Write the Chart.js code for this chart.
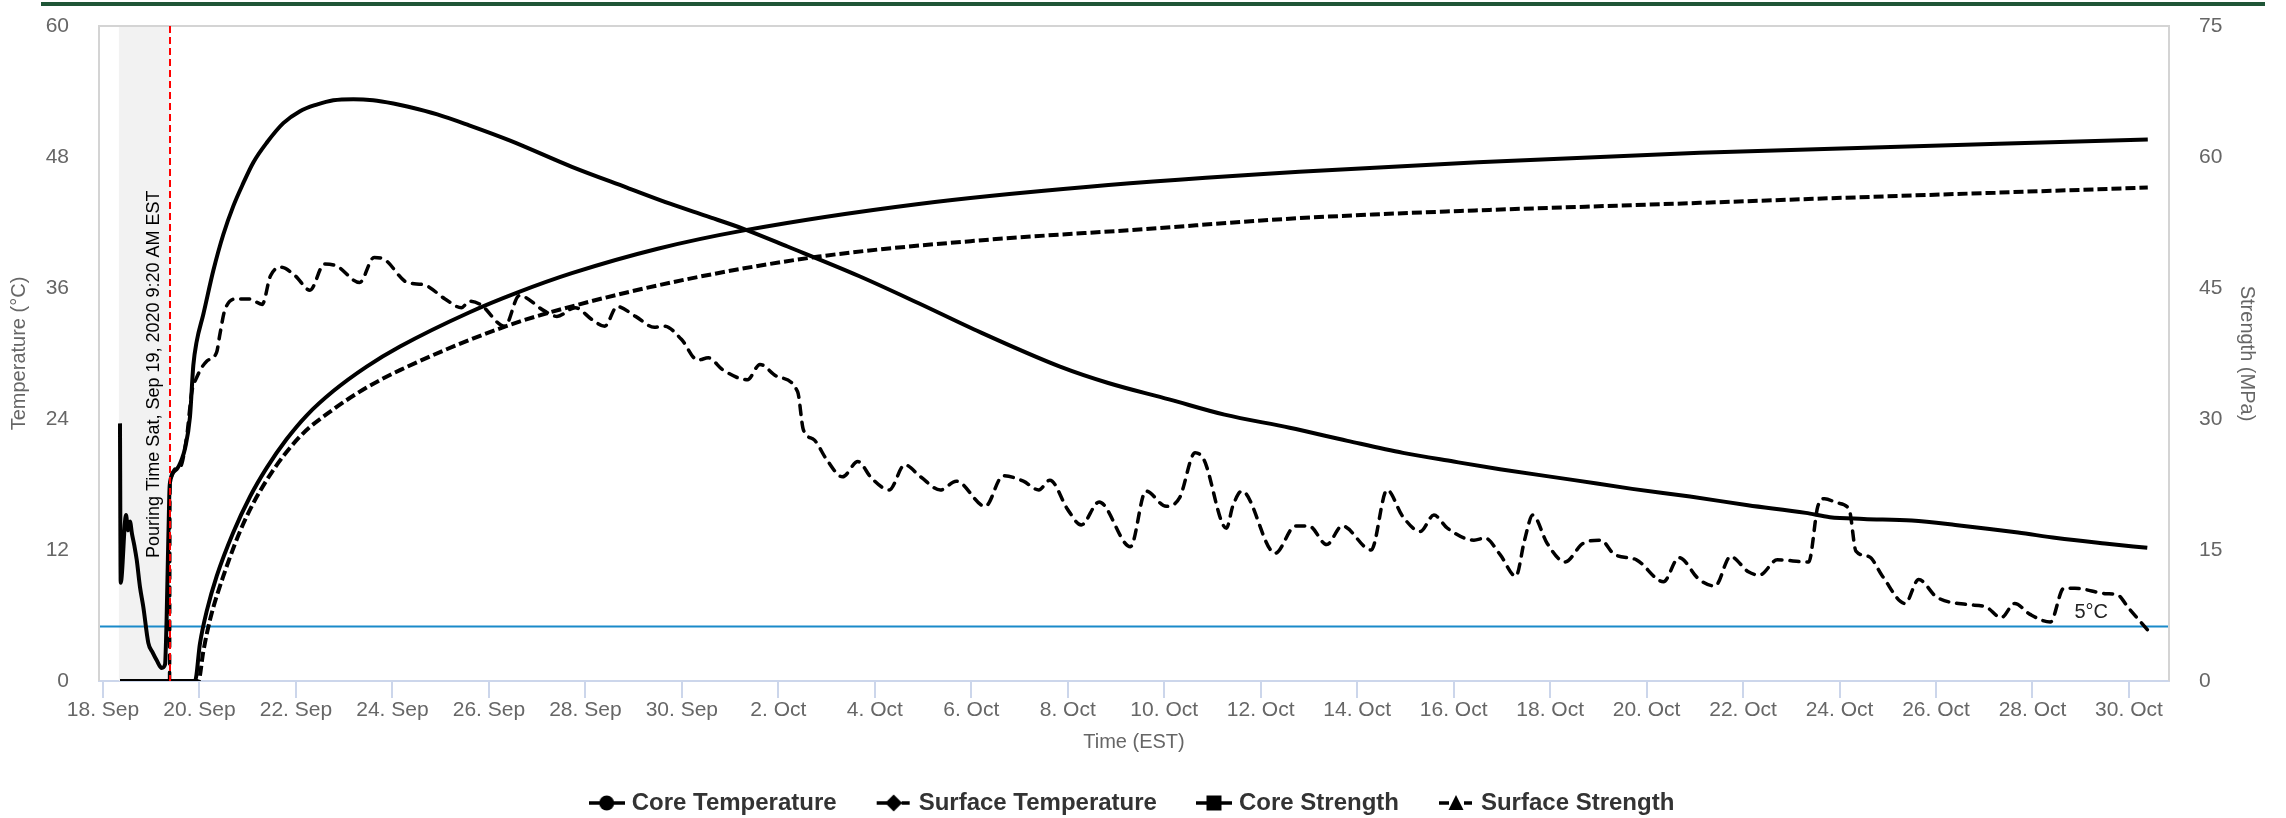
<!DOCTYPE html>
<html>
<head>
<meta charset="utf-8">
<script src="https://cdn.jsdelivr.net/npm/chart.js@4/dist/chart.umd.min.js"></script>
<style>
  html, body { margin: 0; padding: 0; background: #fff; overflow: hidden; }
  #contenedor { position: relative; width: 2286px; height: 818px; }
  #barra { position: absolute; left: 41px; top: 2px; width: 2224px; height: 4px; background: #1f5536; }
  #grafica { position: absolute; left: 0; top: 0; }
</style>
</head>
<body>
<div id="contenedor">
  <canvas id="grafica" width="2286" height="818"></canvas>
  <div id="barra"></div>
</div>
<script>
// dias contados desde el 18 de septiembre 00:00
const diasTicks = [0, 2, 4, 6, 8, 10, 12, 14, 16, 18, 20, 22, 24, 26, 28, 30, 32, 34, 36, 38, 40, 42];
const etiquetasX = ['18. Sep', '20. Sep', '22. Sep', '24. Sep', '26. Sep', '28. Sep', '30. Sep',
    '2. Oct', '4. Oct', '6. Oct', '8. Oct', '10. Oct', '12. Oct', '14. Oct', '16. Oct',
    '18. Oct', '20. Oct', '22. Oct', '24. Oct', '26. Oct', '28. Oct', '30. Oct'];
const ticksTemp = [0, 12, 24, 36, 48, 60];
const ticksRes = [0, 15, 30, 45, 60, 75];

const diaVaciado = 1.389;      // Sat, Sep 19, 2020 9:20 AM
const diaInicioSensor = 0.33;
const tempLimite = 5;

const diasTempNucleo = [0.352, 0.367, 0.477, 0.52, 0.56, 0.60, 0.65, 0.699, 0.767, 0.835, 0.939, 1.03, 1.113, 1.217,
    1.285, 1.32, 1.374, 1.389, 1.528, 1.631, 1.70, 1.803, 1.872, 1.942, 2.08, 2.287, 2.494, 2.701, 2.908, 3.116,
    3.393, 3.738, 4.084, 4.43, 4.775, 5.19, 5.60, 6.02, 6.33, 6.93, 7.59, 8.44, 9.72, 10.86, 11.77, 12.5, 13.29,
    14.19, 15.67, 16.91, 18.06, 19.84, 20.84, 22.1, 23.25, 24.6, 25.8, 26.95, 28.0, 28.96, 30.5, 31.7, 32.9, 34.1,
    35.3, 35.8, 36.5, 37.5, 38.4, 39.7, 40.5, 41.5, 42.38];
const tempNucleo = [23.6, 9.0, 15.2, 13.8, 14.6, 13.5, 12.4, 11.1, 8.6, 6.8, 3.5, 2.6, 1.9, 1.2,
    1.5, 5.9, 17.0, 18.2, 19.4, 20.3, 21.3, 24.2, 28.9, 31.1, 33.6, 37.6, 40.9, 43.5, 45.6, 47.5,
    49.3, 51.1, 52.2, 52.8, 53.2, 53.3, 53.2, 52.9, 52.6, 51.9, 50.9, 49.5, 47.1, 45.2, 43.7, 42.6, 41.4,
    39.8, 37.1, 34.6, 32.2, 28.8, 27.3, 25.8, 24.4, 23.2, 22.0, 20.9, 20.1, 19.4, 18.4, 17.6, 16.9, 16.1,
    15.4, 15.0, 14.85, 14.7, 14.3, 13.6, 13.1, 12.6, 12.2];

const diasTempSuperficie = [1.380, 1.389, 1.596, 1.735, 1.838, 1.942, 2.15, 2.355, 2.425, 2.527, 2.78, 3.04, 3.30,
    3.47, 3.69, 3.99, 4.29, 4.59, 4.85, 5.32, 5.62, 5.84, 6.31, 6.65, 7.09, 7.43, 7.60, 7.82, 8.33, 8.63, 9.15,
    9.41, 9.79, 10.14, 10.40, 10.66, 11.04, 11.43, 11.64, 11.99, 12.33, 12.55, 12.85, 13.36, 13.62, 13.97, 14.40,
    14.52, 14.74, 15.00, 15.33, 15.65, 15.93, 16.30, 16.62, 16.95, 17.36, 17.69, 18.29, 18.66, 19.08, 19.40, 19.63,
    20.00, 20.28, 20.65, 21.30, 21.62, 22.04, 22.32, 22.64, 22.82, 23.29, 23.42, 23.61, 24.30, 24.72, 25.00, 25.37,
    25.69, 26.29, 26.62, 26.94, 27.31, 27.59, 27.87, 28.42, 28.65, 28.96, 29.29, 29.47, 29.64, 29.94, 30.31, 30.68,
    31.05, 31.33, 31.79, 32.35, 32.67, 33.09, 33.42, 33.74, 34.11, 34.34, 34.71, 35.36, 35.55, 35.69, 35.96, 36.20,
    36.34, 36.61, 36.89, 37.36, 37.64, 38.01, 38.65, 39.03, 39.35, 39.63, 39.95, 40.37, 40.65, 40.88, 41.53, 41.76,
    41.99, 42.38];
const tempSuperficie = [0.0, 18.2, 19.6, 22.4, 26.4, 27.8, 29.3, 30.1, 31.8, 34.0, 35.0, 35.0, 34.5,
    37.1, 37.9, 37.1, 35.8, 38.2, 38.0, 36.5, 38.8, 38.6, 36.5, 36.3, 35.0, 34.2, 34.8, 34.5, 32.5, 35.3, 33.9,
    33.4, 34.2, 33.1, 32.5, 34.3, 33.4, 32.4, 32.5, 31.3, 29.4, 29.6, 28.5, 27.6, 29.0, 27.9, 26.5,
    23.0, 22.1, 20.3, 18.7, 20.1, 18.6, 17.5, 19.8, 18.7, 17.5, 18.3, 16.0, 18.8, 18.3, 17.5, 18.4,
    15.7, 14.3, 16.4, 12.3, 17.4, 16.0, 16.8, 20.9, 20.3, 14.0, 16.0, 17.4, 11.7, 14.2, 14.2, 12.5,
    14.2, 12.0, 17.5, 15.1, 13.7, 15.2, 14.0, 12.9, 13.1, 11.6, 9.6, 12.9, 15.2, 12.6, 10.9, 12.6,
    12.9, 11.6, 11.1, 9.1, 11.3, 9.3, 8.7, 11.4, 10.0, 9.7, 11.1, 10.9, 16.0, 16.7, 16.3, 15.7,
    11.9, 11.4, 9.6, 7.1, 9.3, 7.7, 7.0, 6.8, 5.8, 7.1, 6.1, 5.4, 8.5, 8.5, 8.0, 7.9,
    6.7, 4.7];

const diasResNucleo = [0.352, 1.907, 2.01, 2.15, 2.357, 2.70, 3.047, 3.393, 3.808, 4.22, 4.775, 5.466, 6.157,
    7.59, 8.6, 9.72, 11.5, 13.29, 16.87, 20.44, 24.8, 28.5, 33.1, 42.39];
const resNucleo = [0, 0, 4.3, 8.0, 12.0, 17.0, 21.1, 24.4, 27.7, 30.4, 33.2, 36.0, 38.3,
    42.2, 44.5, 46.7, 49.5, 51.6, 54.6, 56.6, 58.3, 59.4, 60.5, 62.0];

const diasResSuperficie = [0.352, 1.976, 2.08, 2.218, 2.494, 2.908, 3.393, 4.084, 4.775, 5.466, 6.157,
    8.29, 9.72, 12.1, 14.84, 18.06, 21.62, 24.8, 33.1, 42.39];
const resSuperficie = [0, 0, 3.4, 7.0, 12.0, 18.0, 23.0, 28.0, 31.1, 33.6, 35.6,
    40.5, 42.9, 46.0, 48.6, 50.4, 51.75, 53.0, 54.75, 56.5];

const puntos = (dias, valores) => dias.map((d, i) => ({ x: d, y: valores[i] }));

const fuente = '"Liberation Sans", Arial, sans-serif';
Chart.defaults.font.family = fuente;
Chart.defaults.color = '#666666';

// iconos de la leyenda: linea + simbolo
const icono = (forma, rayado) => {
    const c = document.createElement('canvas');
    c.width = 36;
    c.height = 20;
    const g = c.getContext('2d');
    g.strokeStyle = '#000';
    g.fillStyle = '#000';
    g.lineWidth = 3.5;
    g.beginPath();
    if (rayado) {
        g.moveTo(1, 10); g.lineTo(11, 10);
        g.moveTo(26, 10); g.lineTo(34, 10);
    } else {
        g.moveTo(0, 10); g.lineTo(36, 10);
    }
    g.stroke();
    g.beginPath();
    if (forma === 'circulo') {
        g.arc(18, 10, 7.5, 0, Math.PI * 2);
    } else if (forma === 'rombo') {
        g.moveTo(18, 1.5); g.lineTo(26.5, 10); g.lineTo(18, 18.5); g.lineTo(9.5, 10);
    } else if (forma === 'cuadro') {
        g.rect(10.5, 2.5, 15, 15);
    } else {
        g.moveTo(18, 2); g.lineTo(25.5, 17); g.lineTo(10.5, 17);
    }
    g.closePath();
    g.fill();
    return c;
};
const iconos = [icono('circulo', false), icono('rombo', true), icono('cuadro', false), icono('triangulo', true)];

const marcas = {
    id: 'marcas',
    beforeDatasetsDraw(chart) {
        const { ctx, chartArea: a, scales: { x, y } } = chart;
        const x0 = x.getPixelForValue(diaInicioSensor);
        const x1 = x.getPixelForValue(diaVaciado);
        ctx.save();
        ctx.fillStyle = '#f2f2f2';
        ctx.fillRect(x0, a.top, x1 - x0, a.bottom - a.top);
        const yl = y.getPixelForValue(tempLimite);
        ctx.strokeStyle = '#1a8ac9';
        ctx.lineWidth = 2;
        ctx.beginPath();
        ctx.moveTo(a.left, yl);
        ctx.lineTo(a.right, yl);
        ctx.stroke();
        ctx.restore();
    },
    afterDatasetsDraw(chart) {
        const { ctx, chartArea: a, scales: { x, y } } = chart;
        const xp = Math.round(x.getPixelForValue(diaVaciado));
        const yl = y.getPixelForValue(tempLimite);
        ctx.save();
        // marco del area
        ctx.strokeStyle = '#d4d4d4';
        ctx.lineWidth = 2;
        ctx.beginPath();
        ctx.moveTo(a.left, a.bottom);
        ctx.lineTo(a.left, a.top);
        ctx.lineTo(a.right, a.top);
        ctx.lineTo(a.right, a.bottom);
        ctx.stroke();
        // linea roja del vaciado
        ctx.strokeStyle = '#ff0000';
        ctx.setLineDash([7, 4]);
        ctx.beginPath();
        ctx.moveTo(xp, a.top);
        ctx.lineTo(xp, a.bottom);
        ctx.stroke();
        ctx.setLineDash([]);
        // texto 5°C
        ctx.fillStyle = '#222';
        ctx.font = '20px ' + fuente;
        ctx.textAlign = 'right';
        ctx.textBaseline = 'bottom';
        ctx.fillText('5°C', a.right - 61, yl - 4);
        // texto del vaciado
        ctx.translate(xp - 16, a.bottom - 123);
        ctx.rotate(-Math.PI / 2);
        ctx.fillStyle = '#000';
        ctx.font = '18px ' + fuente;
        ctx.textAlign = 'left';
        ctx.textBaseline = 'middle';
        ctx.fillText('Pouring Time Sat, Sep 19, 2020 9:20 AM EST', 0, 0);
        ctx.restore();
    }
};

const ctx = document.getElementById('grafica').getContext('2d');
const grafica = new Chart(ctx, {
    type: 'line',
    data: {
        datasets: [{
            label: 'Core Temperature',
            data: puntos(diasTempNucleo, tempNucleo),
            yAxisID: 'y',
            borderColor: '#000',
            borderWidth: 4
        }, {
            label: 'Surface Temperature',
            data: puntos(diasTempSuperficie, tempSuperficie),
            yAxisID: 'y',
            borderColor: '#000',
            borderWidth: 3.5,
            borderDash: [9, 8],
            borderCapStyle: 'round'
        }, {
            label: 'Core Strength',
            data: puntos(diasResNucleo, resNucleo),
            yAxisID: 'y2',
            borderColor: '#000',
            borderWidth: 4
        }, {
            label: 'Surface Strength',
            data: puntos(diasResSuperficie, resSuperficie),
            yAxisID: 'y2',
            borderColor: '#000',
            borderWidth: 4,
            borderDash: [10, 4]
        }]
    },
    options: {
        responsive: false,
        animation: false,
        devicePixelRatio: 1,
        elements: {
            point: { radius: 0 },
            line: { cubicInterpolationMode: 'monotone', fill: false }
        },
        layout: { padding: { top: 26, bottom: 0, left: 0, right: 0 } },
        scales: {
            x: {
                type: 'linear',
                min: -0.083,
                max: 42.83,
                afterBuildTicks: s => { s.ticks = diasTicks.map(v => ({ value: v })); },
                afterFit: s => { s.height = 66; },
                ticks: {
                    autoSkip: false,
                    maxRotation: 0,
                    padding: 0,
                    font: { size: 21 },
                    color: '#666',
                    callback: (v, i) => etiquetasX[i]
                },
                grid: { drawOnChartArea: false, drawTicks: true, tickLength: 17, color: '#ccd6eb', lineWidth: 2 },
                border: { display: true, color: '#ccd6eb', width: 2 },
                title: {
                    display: true,
                    text: 'Time (EST)',
                    color: '#666',
                    font: { size: 20 },
                    padding: { top: 0, bottom: -7 }
                }
            },
            y: {
                position: 'left',
                min: 0,
                max: 60,
                afterBuildTicks: s => { s.ticks = ticksTemp.map(v => ({ value: v })); },
                afterFit: s => { s.width = 99; },
                ticks: { padding: 0, font: { size: 21 }, color: '#666' },
                grid: { display: false, drawTicks: true, tickLength: 30 },
                border: { display: false },
                title: {
                    display: true,
                    text: 'Temperature (°C)',
                    color: '#666',
                    font: { size: 20 },
                    padding: { top: 7, bottom: 0 }
                }
            },
            y2: {
                position: 'right',
                min: 0,
                max: 75,
                afterBuildTicks: s => { s.ticks = ticksRes.map(v => ({ value: v })); },
                afterFit: s => { s.width = 117; },
                ticks: { padding: 0, font: { size: 21 }, color: '#666' },
                grid: { display: false, drawTicks: true, tickLength: 30 },
                border: { display: false },
                title: {
                    display: true,
                    text: 'Strength (MPa)',
                    color: '#666',
                    font: { size: 20 },
                    padding: { top: 27, bottom: 0 }
                }
            }
        },
        plugins: {
            tooltip: { enabled: false },
            legend: {
                position: 'bottom',
                fullSize: false,
                maxHeight: 71,
                labels: {
                    usePointStyle: true,
                    pointStyleWidth: 26,
                    padding: 44,
                    color: '#333',
                    font: { size: 24, weight: 'bold' },
                    generateLabels: chart => chart.data.datasets.map((ds, i) => ({
                        text: ds.label,
                        pointStyle: iconos[i],
                        datasetIndex: i,
                        hidden: false,
                        fontColor: '#333',
                        lineWidth: 0,
                        strokeStyle: 'rgba(0,0,0,0)',
                        fillStyle: 'rgba(0,0,0,0)'
                    }))
                }
            }
        }
    },
    plugins: [marcas]
});
</script>
</body>
</html>
